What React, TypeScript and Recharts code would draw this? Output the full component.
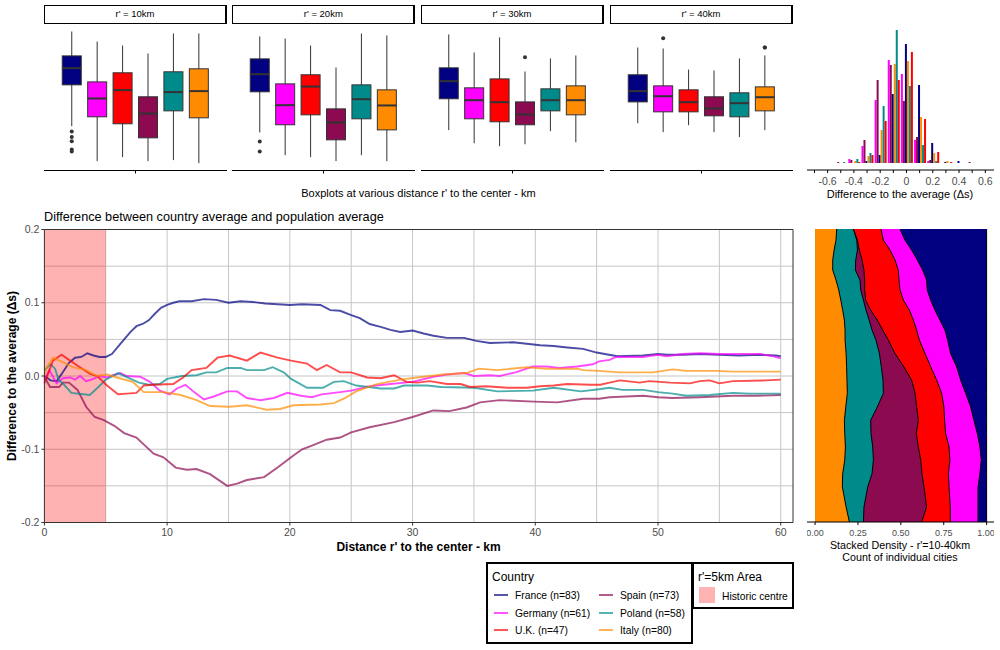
import { Area, AreaChart, Bar, BarChart, CartesianGrid, ComposedChart, Line, ReferenceArea, ReferenceLine, XAxis, YAxis } from 'recharts';

const COLORS: Record<string, string> = {
  France: '#000080',
  Germany: '#ff00ff',
  UK: '#ff0000',
  Spain: '#8b0a50',
  Poland: '#008b8b',
  Italy: '#ff8c00',
};

// box stats per facet: [whisker low, q1, median, q3, whisker high]
const boxOrder = ['France', 'Germany', 'UK', 'Spain', 'Poland', 'Italy'];
const boxPositions = [1, 2, 3, 4, 5, 6];
const facetLabels = ["r' = 10km", "r' = 20km", "r' = 30km", "r' = 40km"];
const facetLefts = [44, 232.3, 421, 610];

const box10 = [
  [-0.202, 0.089, 0.207, 0.293, 0.465],
  [-0.448, -0.136, -0.007, 0.11, 0.394],
  [-0.42, -0.185, 0.052, 0.174, 0.366],
  [-0.448, -0.284, -0.113, 0.005, 0.31],
  [-0.441, -0.094, 0.038, 0.181, 0.451],
  [-0.462, -0.143, 0.045, 0.202, 0.451],
];
const box20 = [
  [-0.246, 0.04, 0.164, 0.272, 0.43],
  [-0.406, -0.192, -0.054, 0.096, 0.415],
  [-0.42, -0.122, 0.077, 0.16, 0.366],
  [-0.448, -0.298, -0.176, -0.08, 0.211],
  [-0.406, -0.15, -0.012, 0.089, 0.451],
  [-0.448, -0.228, -0.056, 0.054, 0.437],
];
const box30 = [
  [-0.23, -0.009, 0.115, 0.209, 0.444],
  [-0.322, -0.15, -0.019, 0.068, 0.317],
  [-0.343, -0.171, -0.033, 0.131, 0.423],
  [-0.329, -0.192, -0.12, -0.031, 0.183],
  [-0.237, -0.094, -0.019, 0.061, 0.275],
  [-0.315, -0.122, -0.019, 0.082, 0.296],
];
const box40 = [
  [-0.181, -0.031, 0.045, 0.16, 0.352],
  [-0.244, -0.101, 0.009, 0.082, 0.345],
  [-0.195, -0.101, -0.033, 0.054, 0.197],
  [-0.244, -0.129, -0.077, 0.005, 0.19],
  [-0.279, -0.136, -0.04, 0.033, 0.275],
  [-0.23, -0.094, 0.002, 0.075, 0.296],
];
const outliers10 = [[-0.239, -0.279, -0.308, -0.366, -0.38], [], [], [], [], []];
const outliers20 = [[-0.31, -0.38], [], [], [], [], []];
const outliers30 = [[], [], [], [0.284], [], []];
const outliers40 = [[], [0.418], [], [], [], [0.352, 0.352]];
const facetBoxes = [box10, box20, box30, box40];
const facetOutliers = [outliers10, outliers20, outliers30, outliers40];

// histogram counts per 0.1 bin
const histBins = [-0.5, -0.4, -0.3, -0.2, -0.1, 0, 0.1, 0.2, 0.3, 0.4, 0.5];
const histTicks = [-0.7, -0.6, -0.5, -0.4, -0.3, -0.2, -0.1, 0, 0.1, 0.2, 0.3, 0.4, 0.5, 0.6];
const histOrder = ['Germany', 'Spain', 'France', 'Italy', 'Poland', 'UK'];
const histGermany = [0, 4, 17, 63, 103, 89, 23, 2, 0, 0, 0];
const histSpain = [1, 3, 23, 83, 98, 62, 26, 3, 0, 0, 1];
const histFrance = [0, 0, 2, 8, 69, 119, 78, 20, 1, 2, 0];
const histItaly = [0, 2, 7, 33, 99, 102, 46, 10, 2, 0, 0];
const histPoland = [1, 4, 10, 57, 133, 77, 18, 2, 0, 0, 0];
const histUK = [0, 1, 8, 42, 83, 111, 44, 11, 1, 0, 0];

// running difference by distance: [km, delta s]
const franceLine = [[0, 0], [0.5, -0.006], [1, -0.007], [1.5, 0.005], [2, 0.018], [2.5, 0.025], [3, 0.026], [3.5, 0.031], [4, 0.028], [4.5, 0.026], [5, 0.026], [5.5, 0.03], [6, 0.04], [6.5, 0.05], [7, 0.06], [7.5, 0.068], [8, 0.071], [8.5, 0.076], [9, 0.085], [9.5, 0.093], [10, 0.097], [10.5, 0.1], [11, 0.102], [12, 0.102], [13, 0.105], [14, 0.104], [15, 0.1], [16, 0.102], [17, 0.101], [18, 0.099], [19, 0.098], [20, 0.097], [21, 0.098], [22.5, 0.097], [23.3, 0.09], [24.1, 0.089], [25, 0.083], [25.7, 0.079], [26.5, 0.071], [27.4, 0.067], [28.2, 0.063], [29, 0.06], [30, 0.062], [30.9, 0.058], [31.7, 0.055], [32.8, 0.052], [34.2, 0.052], [35.2, 0.048], [36.3, 0.045], [38.2, 0.046], [39.3, 0.044], [40.4, 0.042], [41.5, 0.041], [42.6, 0.039], [43.9, 0.037], [45, 0.032], [46, 0.029], [46.7, 0.027], [48.8, 0.028], [50, 0.03], [50.7, 0.029], [52, 0.029], [53.4, 0.03], [55, 0.029], [56.6, 0.028], [58.3, 0.029], [59.6, 0.028], [60, 0.027]];
const germanyLine = [[0, -0.006], [0.4, 0.008], [1, -0.01], [1.5, -0.003], [2.1, -0.002], [2.5, -0.005], [2.9, 0], [3.4, -0.007], [4, -0.004], [4.5, 0], [5.1, -0.002], [5.6, 0.001], [6.2, 0.004], [6.7, 0], [7.8, -0.001], [8.6, -0.008], [9.4, -0.02], [10.2, -0.025], [10.8, -0.017], [11.5, -0.012], [12.2, -0.022], [13, -0.032], [13.8, -0.028], [14.9, -0.021], [15.7, -0.021], [16.5, -0.03], [17.6, -0.033], [18.7, -0.03], [19.8, -0.023], [20.9, -0.027], [21.8, -0.029], [22.6, -0.025], [24.1, -0.022], [25, -0.02], [26.5, -0.014], [28.2, -0.011], [30, -0.008], [31.7, -0.001], [32.8, 0.002], [34.2, 0.004], [35, 0], [36.3, 0.001], [37.1, 0], [38.4, 0.005], [39.8, 0.013], [40.9, 0.013], [42, 0.011], [43.4, 0.013], [44.7, 0.016], [45.2, 0.02], [46.05, 0.022], [46.6, 0.026], [48.8, 0.026], [50, 0.029], [50.7, 0.027], [52, 0.03], [53.4, 0.031], [55, 0.03], [58.3, 0.03], [59.4, 0.027], [60, 0.024]];
const ukLine = [[0, -0.01], [0.7, 0.021], [1.4, 0.029], [2.1, 0.021], [2.9, 0.012], [3.7, 0.003], [4.3, 0], [5.1, -0.013], [6, -0.025], [6.7, -0.024], [7.5, -0.023], [8.1, -0.013], [8.9, -0.012], [10.5, -0.011], [11.3, -0.002], [12, 0.008], [13.2, 0.011], [14.1, 0.025], [15.1, 0.028], [16.5, 0.021], [17.6, 0.032], [19, 0.025], [20.1, 0.021], [21.4, 0.017], [22.2, 0.008], [23, 0.015], [24.1, 0.005], [25, 0.005], [26.3, -0.002], [27.4, -0.003], [28.5, 0.001], [29.5, -0.008], [30.4, -0.009], [31.4, -0.007], [32.8, -0.011], [33.9, -0.011], [34.7, -0.015], [36, -0.014], [37.7, -0.016], [39.3, -0.016], [40.4, -0.014], [41.5, -0.013], [42.6, -0.011], [44.5, -0.012], [45.3, -0.012], [46.05, -0.009], [46.9, -0.006], [48.5, -0.009], [49.3, -0.007], [51, -0.009], [52.6, -0.01], [53.4, -0.007], [54.2, -0.006], [55, -0.01], [56.1, -0.007], [58.8, -0.006], [60, -0.005]];
const spainLine = [[0, -0.001], [0.46, -0.015], [1.2, -0.015], [1.5, -0.009], [2, -0.009], [2.7, -0.019], [3.4, -0.042], [4.1, -0.056], [4.8, -0.06], [5.7, -0.068], [6.5, -0.078], [7.5, -0.084], [8.2, -0.095], [8.9, -0.106], [9.7, -0.111], [10.7, -0.125], [11.6, -0.128], [12.4, -0.127], [13.5, -0.134], [14.9, -0.15], [15.7, -0.147], [16.5, -0.142], [17.9, -0.138], [19, -0.125], [20.1, -0.111], [21, -0.1], [21.8, -0.095], [23, -0.087], [24.1, -0.084], [25, -0.077], [26.5, -0.07], [28.5, -0.063], [30, -0.056], [31.7, -0.047], [33, -0.048], [34.4, -0.043], [35.5, -0.036], [37.1, -0.033], [39.9, -0.035], [41.8, -0.036], [43.9, -0.031], [45.2, -0.031], [46.05, -0.029], [48.8, -0.027], [50, -0.029], [51.2, -0.03], [53.4, -0.029], [56.1, -0.027], [58, -0.027], [60, -0.026]];
const polandLine = [[0, 0.008], [0.5, 0.016], [0.87, 0.01], [1.15, -0.005], [1.6, -0.012], [2.2, -0.023], [3.7, -0.026], [4.4, -0.015], [5, -0.005], [6, 0.004], [6.9, -0.003], [7.7, -0.009], [8.5, -0.012], [9.4, -0.011], [10, -0.004], [11.2, 0], [12.4, 0.001], [13.2, 0.005], [14, 0.005], [14.9, 0.011], [16, 0.011], [16.5, 0.008], [17.9, 0.008], [18.6, 0.012], [19.5, 0.005], [20.1, -0.004], [21.4, -0.016], [22.7, -0.016], [23.6, -0.008], [24.4, -0.007], [25.4, -0.013], [27.4, -0.017], [28.5, -0.017], [29.3, -0.013], [31.2, -0.013], [32.3, -0.015], [35, -0.016], [36.9, -0.021], [39.8, -0.02], [41.5, -0.016], [43.7, -0.021], [45.2, -0.018], [46.05, -0.016], [47.1, -0.019], [48.8, -0.019], [50, -0.022], [51.2, -0.024], [52.3, -0.027], [54.2, -0.026], [56.1, -0.023], [57.5, -0.024], [60, -0.024]];
const italyLine = [[0, 0.001], [0.2, 0.012], [0.7, 0.025], [1.5, 0.019], [2.3, 0.012], [3.4, 0.008], [4.3, 0], [5.1, 0.002], [5.9, -0.002], [7.2, -0.008], [8.1, -0.022], [9.7, -0.022], [11.1, -0.026], [12.4, -0.033], [13.5, -0.041], [15.1, -0.042], [16.5, -0.04], [18.1, -0.046], [19.2, -0.045], [20.3, -0.04], [22.5, -0.039], [23.6, -0.037], [24.4, -0.031], [25.4, -0.021], [27.1, -0.011], [29, -0.005], [30.9, -0.001], [32.5, 0.002], [34.4, 0.004], [35.4, 0.01], [36.9, 0.008], [39.3, 0.012], [40.9, 0.01], [43.4, 0.01], [43.9, 0.008], [45.2, 0.007], [46.9, 0.005], [49.6, 0.005], [50, 0.006], [51.2, 0.009], [52.3, 0.007], [54.7, 0.007], [56.1, 0.006], [60, 0.006]];
const lineOrder = ['France', 'Spain', 'Germany', 'Poland', 'UK', 'Italy'];
const lineSeries: Record<string, number[][]> = { France: franceLine, Spain: spainLine, Germany: germanyLine, Poland: polandLine, UK: ukLine, Italy: italyLine };

// stacked density: outer edge of each stacked band at each level
const densityLevels = [0.5, 0.462, 0.428, 0.394, 0.36, 0.326, 0.292, 0.257, 0.223, 0.189, 0.155, 0.121, 0.075, 0.03, -0.016, -0.061, -0.107, -0.153, -0.198, -0.244, -0.289, -0.335, -0.38, -0.449, -0.5];
const edgeItaly = [0.126, 0.122, 0.111, 0.103, 0.103, 0.122, 0.138, 0.15, 0.161, 0.171, 0.175, 0.175, 0.181, 0.184, 0.186, 0.188, 0.179, 0.171, 0.173, 0.177, 0.173, 0.161, 0.159, 0.181, 0.2];
const edgePoland = [0.223, 0.243, 0.247, 0.237, 0.235, 0.262, 0.266, 0.282, 0.297, 0.315, 0.332, 0.355, 0.375, 0.386, 0.396, 0.398, 0.363, 0.324, 0.326, 0.336, 0.34, 0.332, 0.307, 0.285, 0.282];
const edgeSpain = [0.223, 0.247, 0.258, 0.274, 0.285, 0.289, 0.289, 0.295, 0.324, 0.363, 0.394, 0.427, 0.466, 0.517, 0.563, 0.583, 0.592, 0.602, 0.59, 0.602, 0.616, 0.623, 0.635, 0.65, 0.621];
const edgeUK = [0.384, 0.398, 0.437, 0.466, 0.485, 0.489, 0.495, 0.515, 0.55, 0.573, 0.592, 0.608, 0.641, 0.674, 0.709, 0.738, 0.751, 0.755, 0.761, 0.781, 0.786, 0.777, 0.781, 0.788, 0.788];
const edgeGermany = [0.495, 0.524, 0.563, 0.596, 0.627, 0.65, 0.654, 0.674, 0.699, 0.728, 0.757, 0.773, 0.79, 0.825, 0.849, 0.878, 0.907, 0.926, 0.946, 0.961, 0.969, 0.961, 0.95, 0.95, 0.95];
const edgeFrance = densityLevels.map(() => 1);
const densityEdges: [string, number[]][] = [['France', edgeFrance], ['Germany', edgeGermany], ['UK', edgeUK], ['Spain', edgeSpain], ['Poland', edgePoland], ['Italy', edgeItaly]];
const densityTicks = [0, 0.25, 0.5, 0.75, 1];

const legendLeft = [['France', 'France (n=83)'], ['Germany', 'Germany (n=61)'], ['UK', 'U.K. (n=47)']];
const legendRight = [['Spain', 'Spain (n=73)'], ['Poland', 'Poland (n=58)'], ['Italy', 'Italy (n=80)']];

const FONT = '"Liberation Sans", Arial, sans-serif';
const tickStyle = { fill: '#4d4d4d', fontSize: 10.5, fontFamily: FONT };

const histData = histBins.map((bin, i) => ({
  bin, Germany: histGermany[i], Spain: histSpain[i], France: histFrance[i], Italy: histItaly[i], Poland: histPoland[i], UK: histUK[i],
}));
const densityData = densityLevels.map((level, i) => {
  const row: any = { level };
  densityEdges.forEach(([name, edge]) => { row[name] = edge[i]; });
  return row;
});

function BoxShape(props: any) {
  const { x, y, width, height, payload } = props;
  const { stats, out, color } = payload;
  const yOf = (v: number) => y + ((stats[4] - v) / (stats[4] - stats[0])) * height;
  const cx = x + width / 2;
  return (
    <g>
      <line x1={cx} x2={cx} y1={yOf(stats[4])} y2={yOf(stats[0])} stroke="#333" strokeWidth={1} />
      <rect x={x} y={yOf(stats[3])} width={width} height={yOf(stats[1]) - yOf(stats[3])} fill={color} stroke="#333" strokeWidth={1} />
      <line x1={x} x2={x + width} y1={yOf(stats[2])} y2={yOf(stats[2])} stroke="#333" strokeWidth={2} />
      {out.map((v: number, i: number) => (
        <circle key={i} cx={cx} cy={yOf(v)} r={2} fill="#333" />
      ))}
    </g>
  );
}

function BoxFacet({ index }: { index: number }) {
  const data = boxOrder.map((name, i) => ({
    pos: boxPositions[i],
    range: [facetBoxes[index][i][0], facetBoxes[index][i][4]],
    stats: facetBoxes[index][i],
    out: facetOutliers[index][i],
    color: COLORS[name],
  }));
  return (
    <div style={{ position: 'absolute', left: facetLefts[index], top: 5, width: 183 }}>
      <div style={{ height: 18.5, border: '1px solid #000', borderRightWidth: 2, boxSizing: 'border-box', textAlign: 'center', fontSize: 9.5, lineHeight: '16.5px', fontFamily: FONT }}>
        {facetLabels[index]}
      </div>
      <BarChart width={183} height={150.5} data={data} margin={{ top: 0.5, right: 0, bottom: 0, left: 0 }} barSize={19}>
        <XAxis dataKey="pos" type="number" domain={[-0.1, 7.1]} ticks={[3.5]} tickFormatter={() => ''} height={4} tickSize={3} stroke="#000" />
        <YAxis hide domain={[-0.514, 0.514]} />
        <Bar dataKey="range" shape={<BoxShape />} isAnimationActive={false} />
      </BarChart>
    </div>
  );
}

function Txt({ x, y, w, size, bold, align, children }: any) {
  return (
    <div style={{ position: 'absolute', left: x, top: y, width: w, fontSize: size, fontWeight: bold ? 700 : 400, textAlign: align || 'left', fontFamily: FONT, color: '#000', whiteSpace: 'nowrap', lineHeight: 1.2 }}>
      {children}
    </div>
  );
}

function LegendKey({ x, y, name, label }: any) {
  return (
    <>
      <svg style={{ position: 'absolute', left: x, top: y - 2, width: 14, height: 4 }}>
        <line x1={0} x2={14} y1={2} y2={2} stroke={COLORS[name]} strokeOpacity={0.7} strokeWidth={1.9} />
      </svg>
      <Txt x={x + 21} y={y - 5} size={10.3}>{label}</Txt>
    </>
  );
}

export default function App() {
  return (
    <div style={{ position: 'absolute', left: 0, top: 0, width: 1000, height: 650, background: '#fff', overflow: 'hidden' }}>
      {facetLabels.map((_, i) => <BoxFacet key={i} index={i} />)}
      <Txt x={44} y={187} w={749} size={11} align="center">Boxplots at various distance r' to the center - km</Txt>

      <div style={{ position: 'absolute', left: 807, top: 24 }}>
        <BarChart width={187} height={166} data={histData} margin={{ top: 0, right: 0, bottom: 0, left: 0 }} barSize={2} barGap={0}>
          <XAxis dataKey="bin" type="number" domain={[-0.757, 0.666]} ticks={histTicks} tickFormatter={(v) => (Math.round(v * 10) % 2 === 0 ? `${v}` : '')} height={20} tick={tickStyle} tickSize={3} tickMargin={5} stroke="#000" interval={0} />
          <YAxis hide domain={[-7, 139]} />
          {histOrder.map((name) => (
            <Bar key={name} dataKey={name} fill={COLORS[name]} isAnimationActive={false} />
          ))}
        </BarChart>
      </div>
      <Txt x={800} y={188} w={200} size={11} align="center">Difference to the average (Δs)</Txt>

      <Txt x={44} y={210} size={12.7}>Difference between country average and population average</Txt>
      <div style={{ position: 'absolute', left: 0, top: 220 }}>
        <ComposedChart width={800} height={325} margin={{ top: 9.5, right: 7, bottom: 0, left: 0 }}>
          <CartesianGrid stroke="#c6c6c6" horizontalValues={[-0.15, -0.1, -0.05, 0, 0.05, 0.1, 0.15]} verticalValues={[5, 10, 15, 20, 25, 30, 35, 40, 45, 50, 55, 60]} />
          <XAxis dataKey="km" type="number" domain={[0, 61]} ticks={[0, 10, 20, 30, 40, 50, 60]} height={22.5} tick={tickStyle} tickSize={3} tickMargin={3} stroke="#333" allowDuplicatedCategory={false} />
          <YAxis type="number" domain={[-0.2, 0.2]} ticks={[-0.2, -0.1, 0, 0.1, 0.2]} width={44.4} tick={tickStyle} tickSize={3} stroke="#333" tickFormatter={(v) => (v === 0 ? '0.0' : `${v}`)} />
          <ReferenceArea x1={0} x2={5} y1={-0.2} y2={0.2} fill="#ff0000" fillOpacity={0.3} stroke="none" />
          <ReferenceLine y={0.2} stroke="#333" />
          <ReferenceLine x={61} stroke="#333" />
          {lineOrder.map((name) => (
            <Line key={name} data={lineSeries[name].map(([km, ds]) => ({ km, ds }))} dataKey="ds" stroke={COLORS[name]} strokeOpacity={0.7} strokeWidth={1.9} dot={false} type="linear" isAnimationActive={false} />
          ))}
        </ComposedChart>
      </div>
      <Txt x={44} y={540} w={749} size={12} bold align="center">Distance r' to the center - km</Txt>
      <div style={{ position: 'absolute', left: 12, top: 376, transform: 'translate(-50%, -50%) rotate(-90deg)', fontSize: 12, fontWeight: 700, fontFamily: FONT, whiteSpace: 'nowrap' }}>
        Difference to the average (Δs)
      </div>

      <div style={{ position: 'absolute', left: 807, top: 229 }}>
        <AreaChart layout="vertical" width={187} height={313} data={densityData} margin={{ top: 0, right: 0, bottom: 0, left: 0 }}>
          <XAxis type="number" domain={[-0.047, 1.043]} ticks={densityTicks} tickFormatter={(v) => v.toFixed(2)} height={20} tick={{ ...tickStyle, fontSize: 9 }} tickSize={3} tickMargin={5} stroke="#000" />
          <YAxis hide reversed type="number" dataKey="level" domain={[-0.5, 0.5]} />
          {densityEdges.map(([name]) => (
            <Area key={name} dataKey={name} type="linear" fill={COLORS[name]} fillOpacity={1} stroke="#000" strokeWidth={1} isAnimationActive={false} />
          ))}
        </AreaChart>
      </div>
      <Txt x={800} y={539} w={200} size={10.7} align="center">Stacked Density - r'=10-40km</Txt>
      <Txt x={800} y={551} w={200} size={10.7} align="center">Count of individual cities</Txt>

      <div style={{ position: 'absolute', left: 486, top: 562, width: 207, height: 82, border: '2px solid #000', boxSizing: 'border-box' }} />
      <div style={{ position: 'absolute', left: 692, top: 562, width: 102, height: 47, border: '2px solid #000', boxSizing: 'border-box', background: '#fff' }} />
      <Txt x={492} y={570} size={12}>Country</Txt>
      {legendLeft.map(([name, label], i) => <LegendKey key={name} x={494} y={595 + i * 17.5} name={name} label={label} />)}
      {legendRight.map(([name, label], i) => <LegendKey key={name} x={599} y={595 + i * 17.5} name={name} label={label} />)}
      <Txt x={698} y={570} size={12}>r'=5km Area</Txt>
      <div style={{ position: 'absolute', left: 699, top: 587, width: 16, height: 16, background: '#ffb3b3' }} />
      <Txt x={722} y={591} size={10.3}>Historic centre</Txt>
    </div>
  );
}
